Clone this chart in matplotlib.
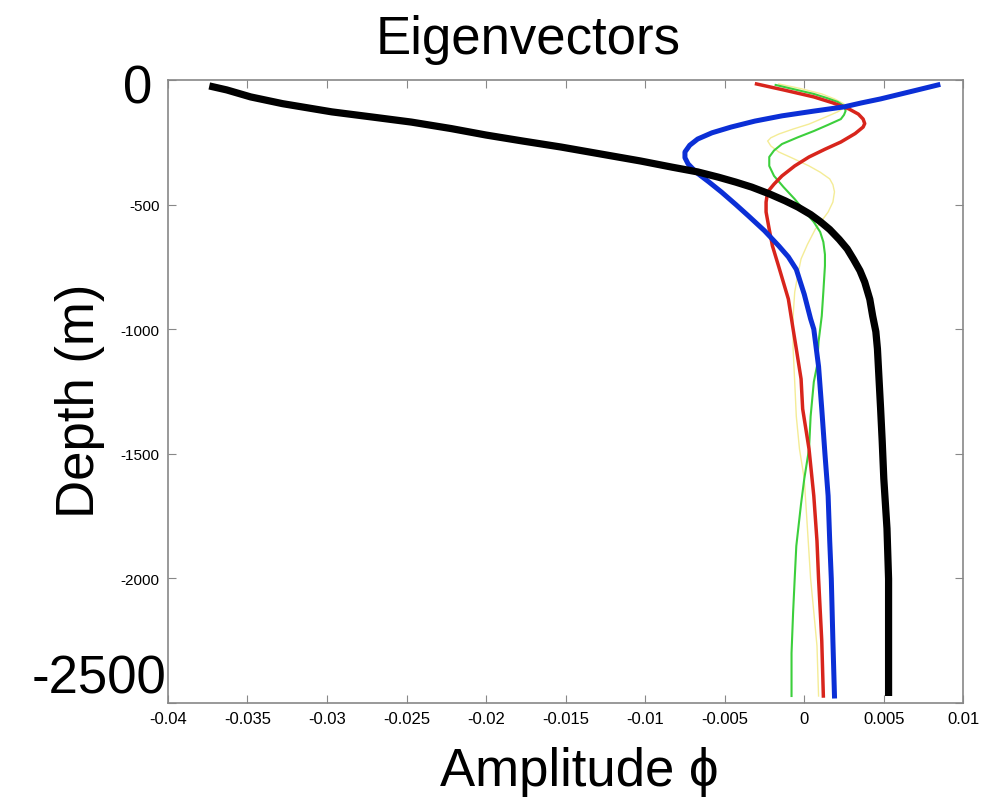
import matplotlib
matplotlib.use('Agg')
import matplotlib.pyplot as plt

plt.rcParams['font.family'] = ['Liberation Sans', 'DejaVu Sans']

black_x = [-0.0374, -0.0363, -0.0348, -0.0328, -0.0297, -0.0270, -0.0247, -0.0222, -0.0200,
           -0.0177, -0.0153, -0.0128, -0.0103, -0.0083, -0.0067, -0.0054, -0.0043, -0.0033,
           -0.0022, -0.0012, -0.0004, 0.0004, 0.0010, 0.0016, 0.0022, 0.0027, 0.0031,
           0.0035, 0.0038, 0.00412, 0.0043, 0.0045, 0.0046, 0.0047, 0.0048, 0.0049,
           0.0050, 0.0052, 0.0053, 0.0053, 0.0053]
black_d = [-24, -40, -68, -95, -128, -150, -169, -195, -221,
           -245, -269, -297, -325, -350, -369, -390, -410, -430,
           -457, -485, -510, -540, -568, -600, -640, -678, -720,
           -765, -811, -880, -947, -1010, -1079, -1200, -1320, -1450,
           -1600, -1800, -2002, -2250, -2472]

blue_x = [0.0084, 0.0068, 0.0048, 0.0036, 0.0025, 0.0006, -0.0014, -0.0031, -0.0046,
          -0.0058, -0.0067, -0.0072, -0.0075, -0.0075, -0.0073, -0.0068, -0.0060, -0.0052,
          -0.0043, -0.0035, -0.0025, -0.0016, -0.0010, -0.0005, 0.0000, 0.0004, 0.0006,
          0.0009, 0.0011, 0.0013, 0.0015, 0.0016, 0.0017, 0.0018, 0.0019]
blue_d = [-20, -45, -76, -92, -108, -125, -144, -165, -189,
          -212, -237, -262, -289, -312, -337, -370, -409, -450,
          -500, -546, -605, -666, -710, -760, -860, -959, -1000,
          -1150, -1320, -1500, -1669, -1850, -2002, -2250, -2472]

red_x = [-0.0030, -0.0013, 0.0006, 0.0018, 0.0028, 0.0034, 0.0037, 0.0038, 0.0037,
         0.0032, 0.0023, 0.0013, 0.0003, -0.0006, -0.0014, -0.0019, -0.0023, -0.0024,
         -0.0024, -0.0022, -0.0020, -0.0016, -0.0010, -0.0007, -0.0005, -0.0002, -0.0001,
         0.0003, 0.0006, 0.0008, 0.0009, 0.0011, 0.0012]
red_d = [-16, -40, -68, -92, -116, -137, -157, -175, -189,
         -215, -249, -278, -309, -345, -385, -418, -449, -490,
         -530, -600, -666, -750, -879, -1000, -1079, -1200, -1320,
         -1481, -1669, -1850, -2002, -2250, -2472]

green_x = [-0.0018, -0.0006, 0.0006, 0.0014, 0.0021, 0.0025, 0.0026, 0.0025, 0.0023,
           0.0015, 0.0006, -0.0004, -0.0014, -0.0019, -0.0022, -0.0022, -0.0019, -0.0013,
           -0.0006, 0.0000, 0.0006, 0.0010, 0.0012, 0.0013, 0.0013, 0.0012, 0.0011,
           0.0009, 0.0008, 0.0006, 0.0004, 0.0003, 0.0000, -0.0002, -0.0005, -0.0006,
           -0.0007, -0.0008, -0.0008]
green_d = [-20, -38, -56, -72, -88, -105, -124, -140, -157,
           -180, -205, -230, -257, -283, -309, -345, -385, -430,
           -478, -525, -570, -610, -650, -700, -746, -850, -947,
           -1050, -1148, -1212, -1350, -1481, -1601, -1700, -1870, -2000,
           -2135, -2300, -2472]

yellow_x = [-0.0016, -0.0002, 0.0011, 0.0019, 0.0025, 0.0025, 0.0021, 0.0013, 0.0003,
            -0.0007, -0.0016, -0.0021, -0.0023, -0.0021, -0.0016, -0.0007, 0.0003, 0.0010,
            0.0016, 0.0018, 0.0019, 0.0018, 0.0015, 0.0011, 0.0007, 0.0002, -0.0002,
            -0.0004, -0.0006, -0.0007, -0.0007, -0.0006, -0.0005, -0.0003, 0.0000, 0.0002,
            0.0004, 0.0006, 0.0008, 0.0009]
yellow_d = [-16, -35, -56, -76, -96, -112, -128, -150, -177,
            -197, -217, -232, -245, -265, -289, -315, -345, -370,
            -397, -420, -449, -490, -530, -565, -598, -660, -718,
            -780, -851, -947, -1079, -1212, -1350, -1481, -1601, -1800,
            -2002, -2135, -2271, -2472]

xticks = [-0.04, -0.035, -0.03, -0.025, -0.02, -0.015, -0.01, -0.005, 0, 0.005, 0.01]
xlabels = ['-0.04', '-0.035', '-0.03', '-0.025', '-0.02', '-0.015', '-0.01', '-0.005', '0', '0.005', '0.01']
yticks = [0, -500, -1000, -1500, -2000, -2500]
ylabels = ['', '-500', '-1000', '-1500', '-2000', '']

fig = plt.figure(figsize=(9.82, 8.04), dpi=100)
ax = fig.add_axes([0.171, 0.1244, 0.81, 0.7749])

ax.plot(yellow_x, yellow_d, color='#f4ec96', lw=1.0, solid_joinstyle='round')
ax.plot(green_x, green_d, color='#3ccf3c', lw=1.5, solid_joinstyle='round')
ax.plot(red_x, red_d, color='#d8251c', lw=2.5, solid_joinstyle='round')
ax.plot(blue_x, blue_d, color='#0b2fd6', lw=3.6, solid_joinstyle='round')
ax.plot(black_x, black_d, color='black', lw=5.2, solid_capstyle='butt', solid_joinstyle='round')

ax.set_xlim(-0.04, 0.01)
ax.set_ylim(-2500, 0)
ax.set_xticks(xticks)
ax.set_xticklabels(xlabels, fontsize=12)
ax.set_yticks(yticks)
ax.set_yticklabels(ylabels, fontsize=11)
ax.tick_params(direction='in', length=6, color='#888888', top=True, right=True, pad=6)
for s in ax.spines.values():
    s.set_color('#888888')
    s.set_linewidth(1.2)

fig.text(0.538, 0.950, 'Eigenvectors', ha='center', va='center', fontsize=38)
fig.text(0.59, 0.04, 'Amplitude \u03d5', ha='center', va='center', fontsize=38)
fig.text(0.081, 0.502, 'Depth (m)', ha='center', va='center', fontsize=38, rotation=90)
fig.text(152 / 982, 1 - 90 / 804, '0', ha='right', va='center', fontsize=38)
fig.text(166 / 982, 1 - 680 / 804, '-2500', ha='right', va='center', fontsize=38)

plt.savefig('out.png')
